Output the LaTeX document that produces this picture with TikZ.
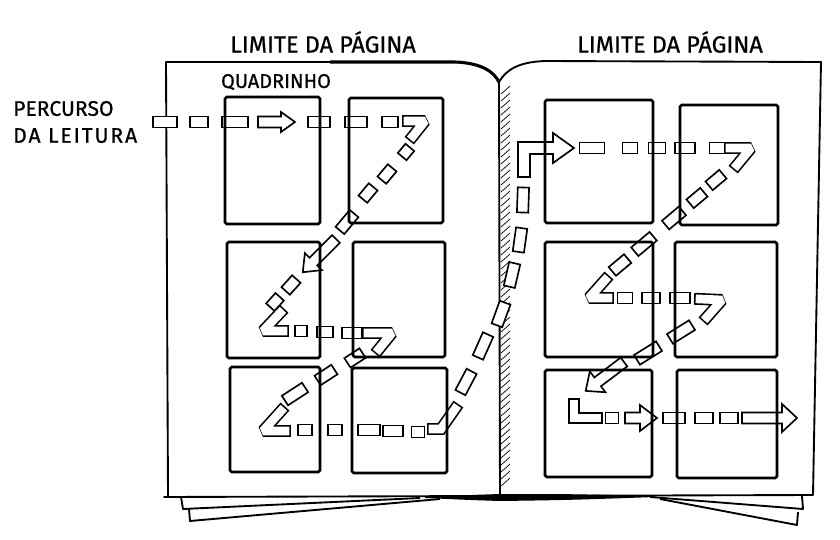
\documentclass[tikz,border=0pt]{standalone}
\usepackage{fontspec}
\setmainfont{Fira Sans}
\newfontfamily\letra{Fira Sans}[FakeBold=0.7]
\usetikzlibrary{calc}
\tikzset{borda/.style={line width=1.6pt,line join=round},
 quadro/.style={line width=2.2pt,rounded corners=1.5pt},
 tramo/.style={draw,fill=white,line width=1.4pt,inner sep=0pt,minimum height=3.4mm,minimum width=#1*0.3mm},
 banda/.style={line width=1.4pt,double=white,double distance=7.4pt,line cap=rect,line join=miter,miter limit=1.5},
 seta/.style={draw,fill=white,line width=1.4pt,line join=miter},
 rotulo/.style={inner sep=0pt},
 pics/flecha/.style args={#1/#2/#3}{code={%
  \draw[seta] (0,-5.5) -- (#1,-5.5) -- (#1,-#3) -- ({#1+#2},0) -- (#1,#3) -- (#1,5.5) -- (0,5.5) -- cycle;}}}

\begin{document}
\begin{tikzpicture}[x=0.3mm,y=-0.3mm]
\useasboundingbox (0,0) rectangle (840,540);
% livro aberto
\draw[borda] (166,62) -- (455,62) .. controls (482,63) and (494,72) .. (499,82)
 .. controls (506,70) and (518,62) .. (545,61) -- (821,62) -- (813,495) -- (164,497) -- (168,497) -- cycle;
\draw[line width=2.6pt] (330,62) -- (455,62) .. controls (482,63) and (494,72) .. (499,82);
\draw[borda] (499,82) -- (500,496);
\fill (425,497) .. controls (470,495) .. (500,494) .. controls (570,494) .. (655,496)
 -- (655,497) .. controls (570,500) .. (500,501) .. controls (470,500) .. (425,498) -- cycle;
\draw[borda] (181,497) -- (183,509) -- (420,498);
\draw[borda] (189,509) -- (190,521) -- (440,499);
\draw[borda] (650,497) -- (803,509) -- (802,496);
\draw[borda] (660,499) -- (797,525) -- (798,512);
\foreach \y in {90,97,...,486} \draw[line width=0.6pt] (501,{\y+4}) -- (510,{\y-4});
% percurso da leitura
\foreach \x/\y/\a/\l [count=\i] in {165/122/0/24,199/122/0/18,235/122/0/26,319/122/0/22,356/122/0/22,390/122/0/16,
 406/152/50/12,387/174/50/16,368/193/50/16,347/222/50/22,291/285/48/16,275/302/48/14,
 301/331/0/12,325/332/0/16,352/333/0/20,355/358/33/18,326/375/33/20,295/394/33/24,
 305/430/0/14,335/430/0/14,369/430/0/22,393/431/0/20,418/432/0/13,
 466/382/62/24,483/346/66/25,501/314/70/24,512/275/77/24,520/240/82/24,523/200/88/25,
 592/148/0/25,630/148/0/15,657/148/0/17,685/148/0/20,717/148/0/15,
 716/180/40/18,697/198/40/18,674/218/40/22,644/244/40/24,620/265/40/20,
 625/298/0/15,651/298/0/18,680/298/0/20,681/332/32/26,648/353/32/26,
 612/418/0/13,674/418/0/22,704/418/0/18,729/418/0/18}
 \node[tramo=\l,rotate=\a] (t\i) at (\x,\y) {};
% curvas do percurso
\foreach \xa/\ya/\xb/\yb/\xc/\yc in {408/121/425/121/413/136, 280/313/263/331/283/331,
 368/333/392/333/379/349, 281/411/263/431/285/431, 433/429/441/429/455/409,
 730/148/751/148/737/165, 605/280/589/298/608/298, 700/299/722/300/707/317,
 574/404/574/418/597/418}
 \draw[banda] (\xa,\ya) -- (\xb,\yb) -- (\xc,\yc);
\draw[seta] (518,177) -- (518,142) -- (553,142) -- (553,133) -- (574,148) -- (553,163)
 -- (553,154) -- (530,154) -- (530,177) -- cycle;
\pic at (258,122) {flecha=23/14/10};
\pic[rotate=225] at (336,239) {flecha=32/15/12};
\pic[rotate=217] at (624,362) {flecha=33/15/13};
\pic at (625,418) {flecha=15/17/13};
\pic at (742,418) {flecha=40/15/14};
% quadrinhos
\foreach \a/\b/\c/\d in {225/97/320/224,349/98/443/223,227/242/320/358,353/242/445/357,
 230/367/320/472,352/368/447/473,545/100/653/223,680/105/778/225,545/242/653/357,
 675/242/777/357,545/370/652/477,677/370/777/478}
 \draw[quadro] (\a,\b) rectangle (\c,\d);
% textos
\node[rotulo,font=\letra\fontsize{20}{23}\selectfont] (limesq) at (323,42) {LIMITE DA PÁGINA};
\node[rotulo,font=\letra\fontsize{20}{23}\selectfont] (limdir) at (670,42) {LIMITE DA PÁGINA};
\node[rotulo,font=\letra\fontsize{17}{20}\selectfont] (quadrinho) at (276,82) {QUADRINHO};
\node[rotulo,font=\letra\fontsize{18}{23}\selectfont,align=left,anchor=west] (percurso) at (13,122)
 {PERCURSO\\{\addfontfeature{LetterSpace=9}DA LEITURA}};
\end{tikzpicture}
\end{document}
